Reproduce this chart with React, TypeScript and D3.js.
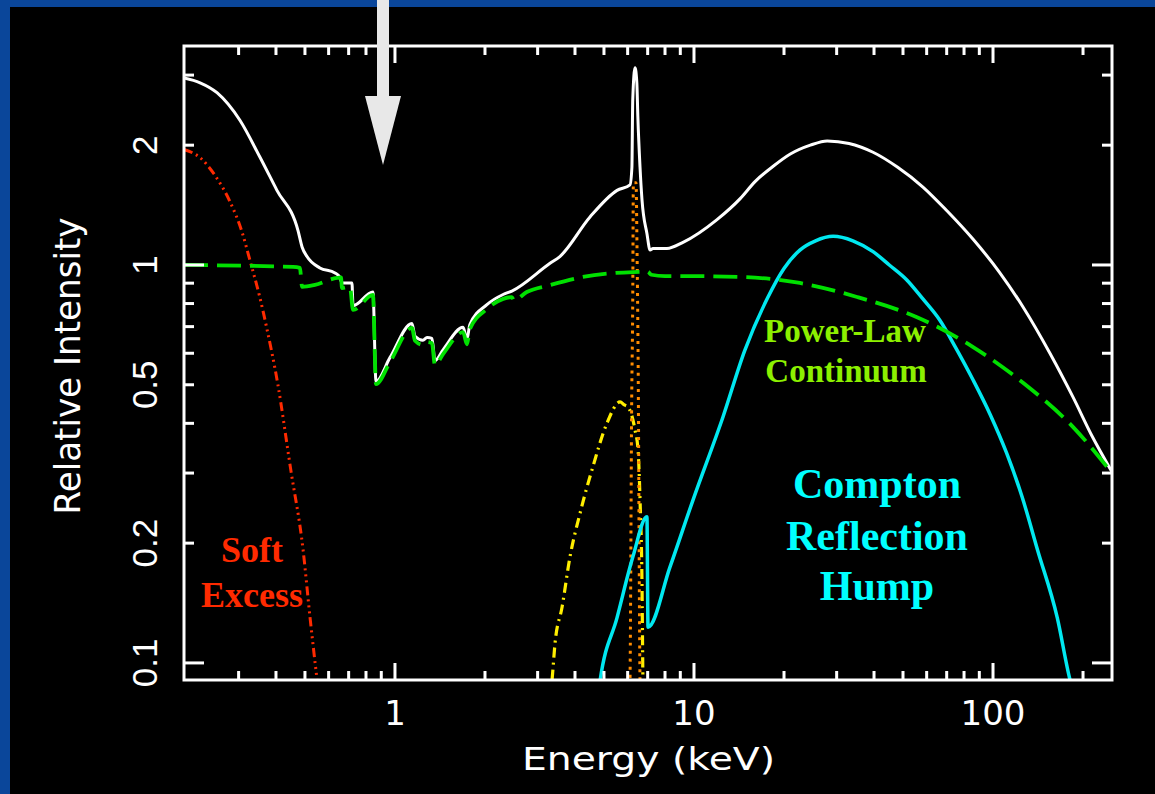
import React from 'react';
import * as d3 from 'd3';

// ---- data (energy keV, relative intensity) ----
const totalModel: [number, number][] = [
  [0.197, 2.95], [0.223, 2.87], [0.254, 2.71], [0.303, 2.31], [0.353, 1.87], [0.403, 1.54],
  [0.474, 1.22], [0.489, 1.11], [0.508, 1.05], [0.561, 0.983], [0.63, 0.955], [0.655, 0.93],
  [0.665, 0.901], [0.718, 0.901], [0.724, 0.79], [0.844, 0.855], [0.864, 0.51], [0.962, 0.585],
  [1.14, 0.713], [1.167, 0.662], [1.24, 0.647], [1.28, 0.657], [1.33, 0.654], [1.36, 0.575],
  [1.45, 0.613], [1.69, 0.697], [1.74, 0.65], [1.78, 0.708], [2.03, 0.795], [2.3, 0.843],
  [2.46, 0.86], [3.3, 1.01], [3.56, 1.05], [4.49, 1.32], [5.53, 1.54], [6.11, 1.59], [6.2, 1.76],
  [6.24, 2.6], [6.35, 3.13], [6.44, 2.87], [6.49, 2.36], [6.6, 1.76], [6.7, 1.46], [6.96, 1.2],
  [7.13, 1.09], [7.29, 1.1], [8.12, 1.1], [9.19, 1.14], [11.94, 1.3], [14.3, 1.47], [16.0, 1.62],
  [18.4, 1.77], [21.0, 1.9], [24.5, 2.0], [27.9, 2.05], [33.0, 2.02], [39.7, 1.92], [48.0, 1.76],
  [58.3, 1.57], [70.0, 1.37], [85.8, 1.16], [105, 0.96], [126, 0.784], [155, 0.6], [185, 0.466],
  [215, 0.37], [250, 0.302],
];

const powerLaw: [number, number][] = [
  [0.197, 1.0], [0.456, 0.989], [0.481, 0.983], [0.489, 0.881], [0.54, 0.891], [0.64, 0.928],
  [0.66, 0.93], [0.665, 0.875], [0.707, 0.881], [0.724, 0.771], [0.844, 0.841], [0.864, 0.502],
  [0.962, 0.57], [1.14, 0.695], [1.167, 0.645], [1.24, 0.63], [1.28, 0.64], [1.33, 0.636],
  [1.36, 0.56], [1.45, 0.598], [1.69, 0.678], [1.74, 0.632], [1.78, 0.69], [2.03, 0.775],
  [2.3, 0.822], [2.46, 0.83], [2.5, 0.815], [2.76, 0.855], [3.3, 0.89], [4.25, 0.933],
  [6.25, 0.96], [7.0, 0.962], [7.2, 0.945], [8.0, 0.938], [9.2, 0.938], [14.3, 0.933],
  [22.6, 0.901], [35.1, 0.831], [55.7, 0.739], [85.8, 0.622], [126, 0.506], [185, 0.392],
  [250, 0.3],
];

const softExcess: [number, number][] = [
  [0.197, 1.95], [0.223, 1.86], [0.25, 1.68], [0.281, 1.44], [0.308, 1.21], [0.327, 1.03],
  [0.353, 0.831], [0.372, 0.698], [0.406, 0.5], [0.447, 0.31], [0.493, 0.192], [0.52, 0.13],
  [0.548, 0.0917], [0.56, 0.08],
];

const ironBroad: [number, number][] = [
  [3.3, 0.08], [3.35, 0.09], [3.43, 0.112], [3.62, 0.138], [3.85, 0.185], [4.16, 0.238],
  [4.59, 0.311], [5.12, 0.401], [5.66, 0.453], [5.85, 0.445], [6.01, 0.44], [6.35, 0.385],
  [6.5, 0.343], [6.6, 0.257], [6.7, 0.159], [6.75, 0.09], [6.77, 0.08],
];

const ironNarrow: [number, number][] = [
  [6.09, 0.08], [6.11, 0.09], [6.19, 0.458], [6.24, 0.817], [6.27, 1.61], [6.4, 1.61],
  [6.45, 1.09], [6.5, 0.611], [6.6, 0.09], [6.62, 0.08],
];

const compton: [number, number][] = [
  [4.75, 0.08], [4.85, 0.09], [5.53, 0.13], [6.25, 0.185], [6.96, 0.233], [7.02, 0.123],
  [8.31, 0.174], [9.93, 0.257], [12.5, 0.415], [14.8, 0.611], [17.6, 0.825], [20.0, 0.98],
  [22.6, 1.09], [25.5, 1.15], [29.2, 1.18], [34.0, 1.15], [39.7, 1.08], [45.0, 1.0],
  [51.5, 0.917], [58.0, 0.825], [66.5, 0.725], [75.0, 0.62], [85.8, 0.514], [98, 0.42],
  [111, 0.337], [125, 0.262], [141, 0.192], [164, 0.13], [181, 0.0906], [190, 0.08],
];

const xMajorTicks = [1, 10, 100];
const xMinorTicks = [0.3, 0.4, 0.5, 0.6, 0.7, 0.8, 0.9, 2, 3, 4, 5, 6, 7, 8, 9, 20, 30, 40, 50, 60, 70, 80, 90, 200];
const yMajorTicks = [0.1, 1];
const yMinorTicks = [0.2, 0.3, 0.4, 0.5, 0.6, 0.7, 0.8, 0.9, 2, 3];
const xTickLabels = ['1', '10', '100'];
const yTickLabels = ['0.1', '0.2', '0.5', '1', '2'];

const xDomain: [number, number] = [0.197, 250];
const yDomain: [number, number] = [0.0906, 3.55];

export default function App() {
  const W = 1155, H = 794;
  const L = 184, R = 1112, T = 46, B = 680;
  const x = d3.scaleLog().domain(xDomain).range([L, R]);
  const y = d3.scaleLog().domain(yDomain).range([B, T]);
  const line = d3.line<[number, number]>().x(d => x(d[0])).y(d => y(d[1])).curve(d3.curveMonotoneX);

  const axisFont = 'DejaVu Sans, Liberation Sans, sans-serif';
  const labelFont = 'Liberation Serif, Times New Roman, serif';

  return (
    <svg width={W} height={H} style={{ position: 'absolute', left: 0, top: 0, display: 'block' }}>
      <rect x={0} y={0} width={W} height={H} fill="#0a469a" />
      <rect x={10} y={7} width={W - 10} height={H - 7} fill="#000" />
      <defs>
        <clipPath id="plot">
          <rect x={L} y={T} width={R - L} height={B - T} />
        </clipPath>
      </defs>

      <g clipPath="url(#plot)" fill="none" strokeLinejoin="round">
        <path d={line(softExcess) || ''} stroke="#ff2a00" strokeWidth={3} strokeDasharray="9,4,2,4,2,4,2,4" />
        <path d={line(ironBroad) || ''} stroke="#ffee00" strokeWidth={3.2} strokeDasharray="10,5,2,5" />
        <path d={line(ironNarrow) || ''} stroke="#ff8c00" strokeWidth={3} strokeDasharray="3,5" />
        <path d={line(compton) || ''} stroke="#00e8f0" strokeWidth={3.5} />
        <path d={line(totalModel) || ''} stroke="#ffffff" strokeWidth={3} />
        <path d={line(powerLaw) || ''} stroke="#00e000" strokeWidth={3.8} strokeDasharray="24,9" />
      </g>

      {/* frame */}
      <rect x={L} y={T} width={R - L} height={B - T} fill="none" stroke="#fff" strokeWidth={3} />
      <g stroke="#fff" strokeWidth={3}>
        {xMajorTicks.map(v => (
          <g key={'xM' + v}>
            <line x1={x(v)} x2={x(v)} y1={B} y2={B - 17} />
            <line x1={x(v)} x2={x(v)} y1={T} y2={T + 17} />
          </g>
        ))}
        {xMinorTicks.map(v => (
          <g key={'xm' + v}>
            <line x1={x(v)} x2={x(v)} y1={B} y2={B - 9} />
            <line x1={x(v)} x2={x(v)} y1={T} y2={T + 9} />
          </g>
        ))}
        {yMajorTicks.map(v => (
          <g key={'yM' + v}>
            <line x1={L} x2={L + 20} y1={y(v)} y2={y(v)} />
            <line x1={R} x2={R - 20} y1={y(v)} y2={y(v)} />
          </g>
        ))}
        {yMinorTicks.map(v => (
          <g key={'ym' + v}>
            <line x1={L} x2={L + 10} y1={y(v)} y2={y(v)} />
            <line x1={R} x2={R - 10} y1={y(v)} y2={y(v)} />
          </g>
        ))}
      </g>

      {/* tick labels */}
      <g fill="#fff" fontFamily={axisFont} fontSize={34}>
        {xTickLabels.map(t => (
          <text key={'xl' + t} x={x(+t)} y={725} textAnchor="middle">{t}</text>
        ))}
      </g>
      <g fill="#fff" fontFamily="Liberation Sans, Arial, sans-serif" fontSize={35}>
        {yTickLabels.map(t => (
          <text key={'yl' + t} transform={`translate(157,${y(+t)}) rotate(-90)`} textAnchor="middle">{t}</text>
        ))}
      </g>

      {/* axis titles */}
      <text x={522} y={770} fill="#fff" fontFamily={axisFont} fontSize={32} textLength={253} lengthAdjust="spacingAndGlyphs">Energy (keV)</text>
      <text transform="translate(80,366) rotate(-90)" fill="#fff" fontFamily={axisFont} fontSize={35} textAnchor="middle" textLength={297} lengthAdjust="spacingAndGlyphs">Relative Intensity</text>

      {/* component labels */}
      <g fontFamily={labelFont} fontWeight="bold" textAnchor="middle">
        <text x={252} y={562} fontSize={36} fill="#ff2a00">Soft</text>
        <text x={252} y={607} fontSize={36} fill="#ff2a00">Excess</text>
        <text x={845} y={342} fontSize={33} fill="#8cf000">Power-Law</text>
        <text x={846} y={382} fontSize={33} fill="#8cf000">Continuum</text>
        <text x={877} y={498} fontSize={42} fill="#00ffff">Compton</text>
        <text x={877} y={550} fontSize={42} fill="#00ffff">Reflection</text>
        <text x={877} y={600} fontSize={42} fill="#00ffff">Hump</text>
      </g>

      {/* arrow */}
      <g fill="#e8e8e8">
        <rect x={377} y={0} width={12} height={97} />
        <polygon points="365,96 401,96 383,165" />
      </g>
    </svg>
  );
}
